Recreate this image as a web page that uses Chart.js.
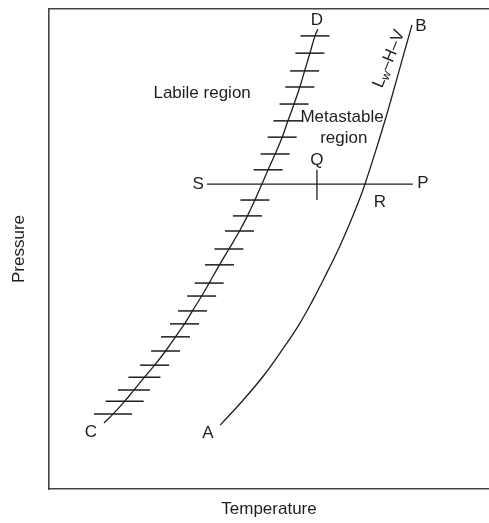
<!DOCTYPE html>
<html>
<head>
<meta charset="utf-8">
<script src="https://cdn.jsdelivr.net/npm/chart.js@4"></script>
<style>
  html, body { margin: 0; padding: 0; background: #fff; }
  #wrap { width: 489px; height: 523px; position: relative; }
</style>
</head>
<body>
<div id="wrap"><canvas id="c"></canvas></div>
<script>
// ---- data (arbitrary schematic units: temperature 0-100, pressure 0-100) ----
const abTemp = [38.9, 44.1, 48.9, 53.0, 56.8, 60.0, 62.3, 65.7, 68.2, 70.5, 71.8, 74.3, 76.6, 77.7, 79.8, 80.9, 82.5];
const abPres = [13.3, 18.5, 23.75, 29.0, 34.2, 39.4, 43.5, 49.8, 55.0, 60.2, 63.5, 70.6, 77.5, 81.0, 87.9, 91.5, 96.7];

// C-D curve: end C, 25 hatch points, end D
const cdTemp = [12.5, 14.55, 17.2, 19.3, 21.7, 24.0, 26.5, 28.75, 30.8, 32.6, 34.7, 36.4, 38.75, 40.9, 43.3, 45.1, 46.8,
                49.8, 51.4, 53.0, 54.3, 55.7, 57.0, 58.1, 59.3, 60.45, 61.1];
const cdPres = [13.75, 15.6, 18.3, 20.6, 23.3, 25.8, 28.75, 31.7, 34.4, 37.1, 40.2, 42.9, 46.7, 50.0, 53.75, 56.9, 60.2,
                66.5, 69.8, 73.3, 76.7, 80.2, 83.75, 87.1, 90.8, 94.4, 95.8];

const spTemp = [35.9, 82.7];
const spPres = [63.5, 63.5];

const qTemp = [60.9, 60.9];
const qPres = [60.2, 66.5];

const labelText = ['Labile region', 'Metastable', 'region', 'Q', 'R', 'S', 'P', 'D', 'B', 'C', 'A'];
const labelTemp = [34.8, 66.6, 67.0, 60.9, 75.2, 33.9, 85.0, 60.9, 84.5, 9.5, 36.1];
const labelPres = [82.5, 77.5, 73.1, 68.5, 59.8, 63.5, 63.7, 97.7, 96.3, 11.9, 11.7];

const curveLabel = ['L', 'w', '–H–V'];
const curveLabelTemp = 77.3;
const curveLabelPres = 89.6;

const xTitle = 'Temperature';
const yTitle = 'Pressure';

// ---- build ----
const pts = (xs, ys) => xs.map((v, i) => ({x: v, y: ys[i]}));
const INK = '#1e1e1e';
const FONT = '"Liberation Sans", Arial, Helvetica, sans-serif';

const textPlugin = {
  id: 'textLabels',
  afterDatasetsDraw(chart) {
    const {ctx, scales: {x, y}} = chart;
    ctx.save();
    ctx.fillStyle = INK;
    ctx.textBaseline = 'middle';
    ctx.textAlign = 'center';
    ctx.font = '17px ' + FONT;
    labelText.forEach((s, i) => {
      ctx.fillText(s, x.getPixelForValue(labelTemp[i]), y.getPixelForValue(labelPres[i]));
    });
    // rotated curve label L_w–H–V
    const cx = x.getPixelForValue(curveLabelTemp);
    const cy = y.getPixelForValue(curveLabelPres);
    ctx.translate(cx, cy);
    ctx.rotate(-68 * Math.PI / 180);
    ctx.textAlign = 'left';
    const fonts = ['17px ' + FONT, '12px ' + FONT, '17px ' + FONT];
    const dys = [0, 4, 0];
    let total = 0;
    const widths = curveLabel.map((s, i) => { ctx.font = fonts[i]; const w = ctx.measureText(s).width; total += w; return w; });
    let px = -total / 2;
    curveLabel.forEach((s, i) => {
      ctx.font = fonts[i];
      ctx.fillText(s, px, dys[i]);
      px += widths[i];
    });
    ctx.restore();
  }
};

const lineDs = (data, extra) => Object.assign({
  data, showLine: true, borderColor: INK, borderWidth: 1.3, pointRadius: 0,
  tension: 0, fill: false
}, extra);

const n = cdTemp.length;
new Chart(document.getElementById('c'), {
  type: 'scatter',
  data: {
    datasets: [
      lineDs(pts(abTemp, abPres), {tension: 0.4}),
      lineDs(pts(cdTemp, cdPres), {
        tension: 0.4,
        pointStyle: 'line',
        pointRadius: (c) => (c.dataIndex === 0 || c.dataIndex === n - 1) ? 0 : (c.dataIndex <= 2 ? 19 : (c.dataIndex <= 4 ? 16 : 14.5)),
        pointBorderColor: INK,
        pointBorderWidth: 1.5,
        pointBackgroundColor: INK
      }),
      lineDs(pts(spTemp, spPres)),
      lineDs(pts(qTemp, qPres))
    ]
  },
  options: {
    responsive: true,
    maintainAspectRatio: false,
    animation: false,
    events: [],
    layout: {padding: {left: 0, right: 0, top: 9, bottom: 0}},
    plugins: {legend: {display: false}, tooltip: {enabled: false}},
    scales: {
      x: {
        type: 'linear', min: 0, max: 100, position: 'bottom',
        ticks: {display: false},
        grid: {display: false, drawTicks: false},
        border: {display: true, color: '#444', width: 1.6},
        title: {display: true, text: xTitle, color: INK, font: {size: 17, family: FONT}, padding: {top: 10.6, bottom: 3}}
      },
      x2: {
        type: 'linear', min: 0, max: 100, position: 'top', display: true,
        ticks: {display: false},
        grid: {display: false, drawTicks: false},
        border: {display: true, color: '#444', width: 1.6}
      },
      y: {
        type: 'linear', min: 0, max: 100,
        ticks: {display: false},
        grid: {display: false, drawTicks: false},
        border: {display: true, color: '#444', width: 1.6},
        title: {display: true, text: yTitle, color: INK, font: {size: 17, family: FONT}, padding: {top: 8.8, bottom: 19.8}}
      }
    }
  },
  plugins: [textPlugin]
});
</script>
</body>
</html>
